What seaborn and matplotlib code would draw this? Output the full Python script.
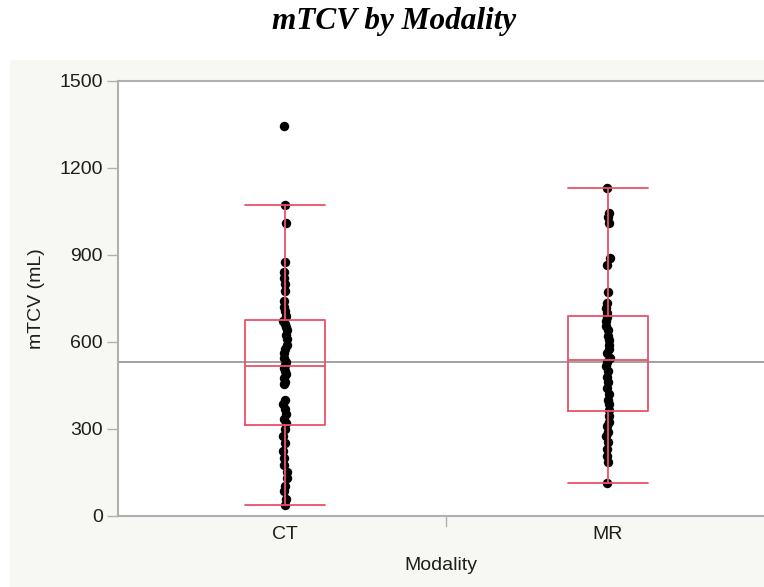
import numpy as np
import pandas as pd
import matplotlib
matplotlib.use("Agg")
import matplotlib.pyplot as plt
import seaborn as sns
from matplotlib.patches import Rectangle

# mTCV measurements (mL) per imaging modality
modalities = ["CT", "MR"]
ct_values = [38, 60, 85, 105, 130, 150, 175, 200, 225, 250, 275, 300,
             320, 335, 350, 370, 385, 400, 455, 460, 475, 490, 500, 510,
             520, 530, 545, 560, 575, 590, 610, 625, 640, 650, 662, 672,
             690, 705, 720, 740, 775, 800, 820, 840, 875, 1010, 1072, 1343]
mr_values = [113, 185, 205, 230, 255, 275, 290, 310, 325, 345,
             365, 385, 400, 420, 440, 460, 480, 500, 515, 530,
             545, 560, 575, 590, 605, 620, 640, 655, 670, 685,
             700, 715, 735, 772, 865, 890, 1010, 1030, 1045, 1130]
y_ticks = [0, 300, 600, 900, 1200, 1500]

df = pd.DataFrame({
    "Modality": ["CT"] * len(ct_values) + ["MR"] * len(mr_values),
    "mTCV": ct_values + mr_values,
})
grand_mean = df["mTCV"].mean()

sns.set_theme(style="white")
plt.rcParams["font.family"] = ["Liberation Sans", "DejaVu Sans"]

W, H = 764, 587
fig = plt.figure(figsize=(W / 100, H / 100), dpi=100)
fig.patch.set_facecolor("white")

# light framed panel behind the plot
fig.patches.append(Rectangle((10 / W, 0), 1 - 10 / W, (H - 60) / H,
                             transform=fig.transFigure, facecolor="#f7f7f3",
                             edgecolor="none", zorder=-10))

ax = fig.add_axes([118 / W, (H - 516) / H, (W - 118) / W, (516 - 80.5) / H])
ax.set_facecolor("white")
ax.set_zorder(1)

np.random.seed(3)
sns.stripplot(data=df, x="Modality", y="mTCV", order=modalities, ax=ax,
              color="black", size=6.8, jitter=0.006, linewidth=0, zorder=2)

box_color = "#ec5069"
line_kw = dict(color=box_color, linewidth=1.3, zorder=4)
sns.boxplot(data=df, x="Modality", y="mTCV", order=modalities, ax=ax,
            width=0.25, fill=False, showfliers=False, whis=1.5,
            color=box_color, linewidth=1.3,
            boxprops=line_kw, medianprops=line_kw,
            whiskerprops=line_kw, capprops=line_kw,
            capwidths=0.25)

ax.axhline(grand_mean, color="#9a9a9a", linewidth=1.3, zorder=1)

txt = "#1e1e1e"
ax.set_xlim(-0.517, 1.483)
ax.set_ylim(0, 1500)
ax.set_yticks(y_ticks)
ax.set_yticklabels([str(t) for t in y_ticks], fontsize=14, color=txt)

ax.set_xticks([0, 1])
ax.set_xticklabels(modalities, fontsize=14, color=txt)
ax.tick_params(axis="x", length=0, pad=7)
ax.tick_params(axis="y", length=8, width=1, color="#b0b0b0", pad=3, left=True)
# separator tick between the two modality groups
ax.plot([0.5, 0.5], [0, -0.022], transform=ax.get_xaxis_transform(),
        color="#b0b0b0", linewidth=1, clip_on=False)

for side in ["left", "bottom", "top"]:
    ax.spines[side].set_visible(True)
    ax.spines[side].set_color("#b0b0b0")
    ax.spines[side].set_linewidth(1.5)
ax.spines["right"].set_visible(False)

ax.set_xlabel("Modality", fontsize=14, color=txt, labelpad=10)
ax.set_ylabel("mTCV (mL)", fontsize=14, color=txt, labelpad=10)

fig.text(394 / W, 1 - 21 / H, "mTCV by Modality", ha="center", va="center",
         fontsize=22.5, fontweight="bold", fontstyle="italic",
         family=["Liberation Serif", "DejaVu Serif"], color="black")

fig.savefig("out.png", dpi=100)
